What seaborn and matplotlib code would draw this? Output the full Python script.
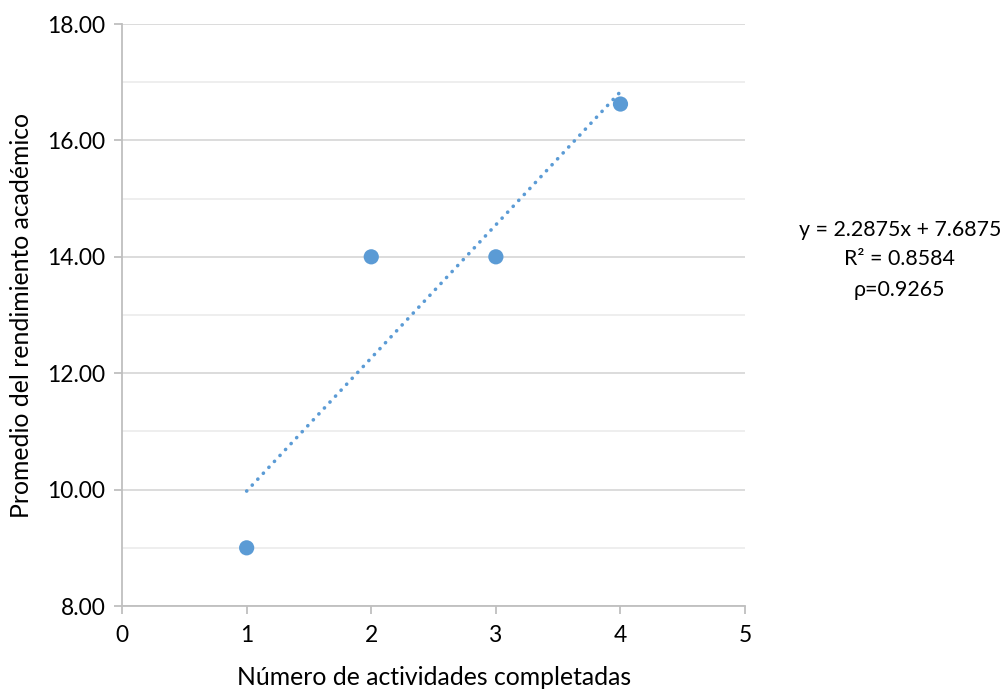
import matplotlib
matplotlib.use("Agg")
import matplotlib.pyplot as plt
import seaborn as sns
import pandas as pd
import numpy as np

actividades = [1, 2, 3, 4]
promedio = [9.0, 14.0, 14.0, 16.625]
x_ticks = [0, 1, 2, 3, 4, 5]
y_major = [8, 10, 12, 14, 16, 18]
y_minor = [9, 11, 13, 15, 17]
eq_lines = ["y = 2.2875x + 7.6875", "R² = 0.8584", "ρ=0.9265"]

sns.set_theme(style="white")
plt.rcParams['font.family'] = ['Lato', 'DejaVu Sans']

df = pd.DataFrame({"x": actividades, "y": promedio})
color = "#5B9BD5"

fig = plt.figure(figsize=(10.02, 6.9), dpi=100)
ax = fig.add_axes([0.1218, 0.1217, 0.6218, 0.8435])

sns.regplot(data=df, x="x", y="y", ax=ax, ci=None, truncate=True,
            scatter_kws=dict(s=120, color=color, edgecolor="none", alpha=1, zorder=3),
            line_kws=dict(color=color, linewidth=2.6, linestyle=(0, (0.05, 2.2)),
                          dash_capstyle="round", solid_capstyle="round", zorder=2))

ax.set_xlim(0, 5)
ax.set_ylim(8, 18)
ax.set_xticks(x_ticks)
ax.set_xticklabels([str(v) for v in x_ticks])
ax.set_yticks(y_major)
ax.set_yticklabels([f"{v:.2f}" for v in y_major])
ax.set_yticks(y_minor, minor=True)

ax.grid(axis="y", which="major", color="#D9D9D9", linewidth=1.3)
ax.grid(axis="y", which="minor", color="#EDEDED", linewidth=1.3)
ax.grid(axis="x", visible=False)
ax.set_axisbelow(True)

for s in ["top", "right"]:
    ax.spines[s].set_visible(False)
for s in ["left", "bottom"]:
    ax.spines[s].set_color("#BFBFBF")
    ax.spines[s].set_linewidth(1.3)

ax.tick_params(axis="both", which="major", direction="out", length=6, width=1.3,
               color="#BFBFBF", labelsize=16.4, labelcolor="black", pad=6)
ax.tick_params(axis="both", which="minor", length=0)
ax.tick_params(axis="x", bottom=True, pad=8)
ax.tick_params(axis="y", left=True)

ax.set_xlabel("Número de actividades completadas", fontsize=17.8, color="black", labelpad=14)
ax.set_ylabel("Promedio del rendimiento académico", fontsize=17.8, color="black", labelpad=10)

fig.text(0.898, 1 - 230 / 690, eq_lines[0], ha="center", va="center", fontsize=15.4, color="black")
fig.text(0.898, 1 - 259 / 690, eq_lines[1], ha="center", va="center", fontsize=15.4, color="black")
fig.text(0.898, 1 - 290 / 690, eq_lines[2], ha="center", va="center", fontsize=15.4, color="black")

fig.savefig("out.png", dpi=100)
